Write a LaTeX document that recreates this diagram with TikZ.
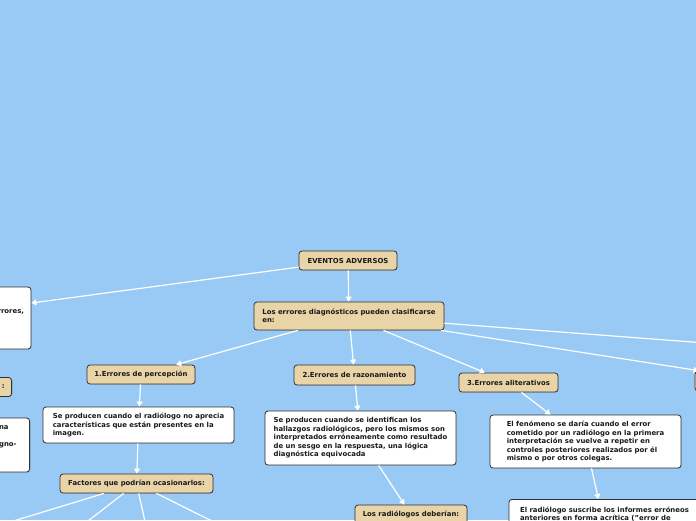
\documentclass[tikz,border=0pt]{standalone}
\usepackage{fontspec}
\setmainfont{DejaVu Sans}
\usepackage{xcolor}
\usetikzlibrary{arrows.meta,shadows}
\definecolor{fondo}{RGB}{153,201,245}
\definecolor{arena}{RGB}{233,212,168}
\definecolor{borde}{RGB}{50,50,50}
\tikzset{
    caja/.style={
        rectangle,
        draw=borde,
        line width=0.8pt,
        rounded corners=3pt,
        align=left,
        text=black!90,
        font=\fontsize{6.9}{8.5}\selectfont\bfseries,
        inner xsep=7pt,
        inner ysep=4pt,
        drop shadow={shadow xshift=0.7pt, shadow yshift=-0.7pt, opacity=0.3}
    },
    titulo/.style={caja, fill=arena, align=center, minimum height=19pt},
    nota/.style={caja, fill=white},
    flecha/.style={-{Triangle[width=6pt,length=5pt]}, white, line width=1.2pt}
}

\begin{document}
\begin{tikzpicture}[x=1pt, y=-1pt]

        \useasboundingbox (0,0) rectangle (696,520);
        \clip (0,0) rectangle (696,520);
        \fill[fondo] (0,0) rectangle (696,520);

        \node[titulo, minimum width=98pt] (eventos) at (348,260.5)
        {EVENTOS ADVERSOS};

        \node[titulo, align=left, minimum width=190pt, minimum height=28pt] (clasif) at (349,316)
        {Los errores diagnósticos pueden clasificarse\\
         en:};

        % ramas que salen del borde
        \node[nota, text width=210pt, align=right, minimum height=62pt] (izq1) at (-81,318)
        {\mbox{}\\ \mbox{}\\ rrores,\\ \mbox{}\\ \mbox{}\\ \mbox{}};

        \node[titulo, text width=84pt, align=right, anchor=east] (izq2) at (12,387)
        {:};

        \node[nota, text width=160pt, align=right, minimum height=54pt, anchor=east] (izq3) at (30,445)
        {na\kern14pt\\ \mbox{}\\ gno-\kern6pt\\ \mbox{}\\ \mbox{}};

        \node[titulo, minimum width=140pt, minimum height=20pt] (derR) at (765,381)
        {};

        \coordinate (derR2) at (860,354.7);

        % 1
        \node[titulo, minimum width=108pt] (percep) at (141,374.5)
        {1.Errores de percepción};

        \node[nota, minimum width=191pt, minimum height=36pt] (percepdesc) at (138.5,425)
        {Se producen cuando el radiólogo no aprecia\\
         características que están presentes en la\\
         imagen.};

        \node[titulo, minimum width=153pt] (factores) at (136.5,483.5)
        {Factores que podrían ocasionarlos:};

        \coordinate (f1) at (-3,526);
        \coordinate (f2) at (81.5,526);
        \coordinate (f3) at (146,526);
        \coordinate (f4) at (222,526);

        % 2
        \node[titulo, minimum width=121pt, minimum height=20pt] (razon) at (354.5,375)
        {2.Errores de razonamiento};

        \node[nota, minimum width=191pt, minimum height=54pt] (razondesc) at (360.5,438)
        {Se producen cuando se identifican los\\
         hallazgos radiológicos, pero los mismos son\\
         interpretados erróneamente como resultado\\
         de un sesgo en la respuesta, una lógica\\
         diagnóstica equivocada};

        \node[titulo, minimum width=112pt] (deberian) at (411,514.5)
        {Los radiólogos deberían:};

        % 3
        \node[titulo, minimum width=99pt] (alit) at (508.5,382.5)
        {3.Errores aliterativos};

        \node[nota, minimum width=191pt, minimum height=53pt] (alitdesc) at (585.5,441.5)
        {El fenómeno se daría cuando el error\\
         cometido por un radiólogo en la primera\\
         interpretación se vuelve a repetir en\\
         controles posteriores realizados por él\\
         mismo o por otros colegas.};

        \node[nota, minimum width=191pt, minimum height=54pt, anchor=north] (suscribe) at (604.5,499)
        {El radiólogo suscribe los informes erróneos\\
         anteriores en forma acrítica ("error de\\
         \mbox{}\\ \mbox{}\\ \mbox{}};

        \draw[flecha] (eventos) -- (clasif);
        \draw[flecha] (eventos) -- (izq1);
        \draw[flecha] (clasif) -- (percep);
        \draw[flecha] (clasif) -- (razon);
        \draw[flecha] (clasif) -- (alit);
        \draw[flecha] (clasif) -- (derR);
        \draw[flecha] (clasif) -- (derR2);
        \draw[flecha] (percep) -- (percepdesc);
        \draw[flecha] (percepdesc) -- (factores);
        \draw[flecha] (factores) -- (f1);
        \draw[flecha] (factores) -- (f2);
        \draw[flecha] (factores) -- (f3);
        \draw[flecha] (factores) -- (f4);
        \draw[flecha] (razon) -- (razondesc);
        \draw[flecha] (razondesc) -- (deberian);
        \draw[flecha] (alit) -- (alitdesc);
        \draw[flecha] (alitdesc) -- (suscribe);

    \end{tikzpicture}
\end{document}
